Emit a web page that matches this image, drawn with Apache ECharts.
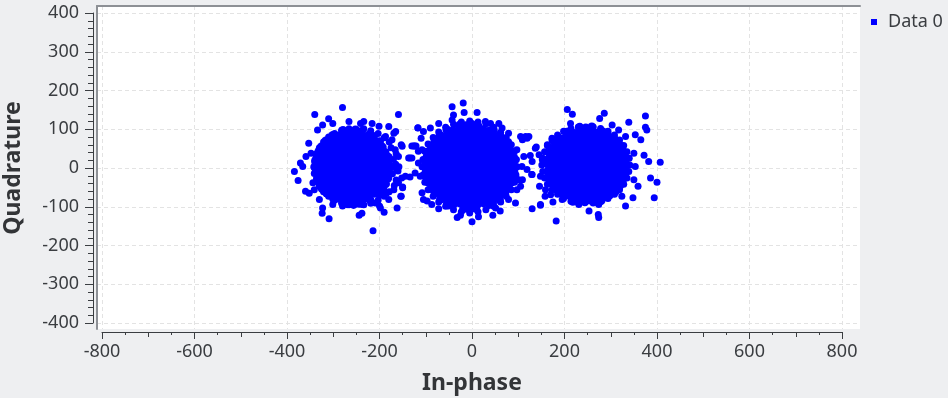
<!DOCTYPE html>
<html><head><meta charset="utf-8">
<script src="https://cdn.jsdelivr.net/npm/echarts@6/dist/echarts.min.js"></script>
<style>html,body{margin:0;padding:0;background:#eeeff1}#c{width:948px;height:398px}</style>
</head><body><div id="c"></div>
<script>
const seriesName = 'Data 0';
const xAxisTitle = 'In-phase';
const yAxisTitle = 'Quadrature';
const xRange = [-800, 800];
const yRange = [-400, 400];
const xSplitValues = [-800, -600, -400, -200, 0, 200, 400, 600, 800];
const ySplitValues = [-400, -300, -200, -100, 0, 100, 200, 300, 400];

// Cluster near I = -250 (dense body)
const leftCore = [
[-279,97],[-266,95],[-252,98],[-239,94],
[-301,84],[-288,82],[-275,85],[-262,81],[-249,84],[-236,82],[-223,85],[-213,81],
[-316,70],[-303,68],[-290,71],[-277,67],[-264,70],[-251,68],[-238,71],[-225,67],[-212,70],[-200,68],
[-325,55],[-312,57],[-298,54],[-285,58],[-272,55],[-259,57],[-246,54],[-233,58],[-220,55],[-207,57],[-194,54],
[-331,43],[-318,41],[-305,44],[-292,40],[-279,43],[-266,41],[-253,44],[-240,40],[-227,43],[-214,41],[-201,44],[-188,40],
[-335,28],[-322,30],[-309,27],[-296,31],[-283,28],[-270,30],[-257,27],[-244,31],[-231,28],[-218,30],[-205,27],[-192,31],[-181,28],
[-338,16],[-325,14],[-312,17],[-299,13],[-286,16],[-273,14],[-260,17],[-247,13],[-234,16],[-221,14],[-208,17],[-195,13],[-182,16],
[-339,1],[-326,3],[-313,0],[-300,4],[-287,1],[-274,3],[-261,0],[-248,4],[-235,1],[-222,3],[-209,0],[-196,4],[-183,1],[-176,3],
[-337,-11],[-324,-13],[-311,-10],[-298,-14],[-285,-11],[-272,-13],[-259,-10],[-246,-14],[-233,-11],[-220,-13],[-207,-10],[-194,-14],[-181,-11],
[-334,-26],[-321,-24],[-308,-27],[-295,-23],[-282,-26],[-269,-24],[-256,-27],[-243,-23],[-230,-26],[-217,-24],[-204,-27],[-191,-23],[-182,-26],
[-330,-38],[-317,-40],[-304,-37],[-291,-41],[-278,-38],[-265,-40],[-252,-37],[-239,-41],[-226,-38],[-213,-40],[-200,-37],[-187,-41],
[-324,-53],[-311,-51],[-298,-54],[-285,-50],[-272,-53],[-259,-51],[-246,-54],[-233,-50],[-220,-53],[-207,-51],[-193,-54],
[-314,-65],[-301,-67],[-288,-64],[-275,-68],[-262,-65],[-249,-67],[-236,-64],[-223,-68],[-210,-65],[-200,-67],
[-299,-80],[-286,-78],[-273,-81],[-260,-77],[-247,-80],[-234,-78],[-221,-81],
[-270,-92],[-256,-94],[-244,-91]
];
// Cluster near I = -250 (outer ring and scattered fringe)
const leftEdge = [
[-158,3],[-165,10],[-160,-8],[-164,37],[-179,67],[-203,89],[-234,101],[-266,101],[-297,89],[-321,67],
[-336,37],[-342,3],[-336,-31],[-321,-61],[-297,-83],[-266,-95],[-234,-95],[-203,-83],[-179,-61],[-164,-31],
[-170,22],[-172,-15],[-168,-45],[-190,78],[-219,96],[-282,97],[-310,80],[-330,52],[-340,20],[-341,-14],
[-330,-47],[-310,-73],[-282,-91],[-219,-91],[-190,-73],[-175,52],[-185,-65],
[-280,156],[-340,138],[-310,127],[-159,138],[-214,-162],[-309,-131],[-324,-117],[-384,-9],[-376,-32],[-371,13],
[-353,64],[-334,98],[-244,-122],[-238,-117],[-190,-114],[-162,-103],[-154,-73],[-150,-49],[-117,103],[-151,56],
[-126,57],[-121,57],[-116,43],[-134,26],[-144,-21],[-169,90],[-165,94],[-241,115],[-234,120],[-216,115],
[-201,108],[-360,-60],[-352,-65],[-323,-103],[-280,-98],[-200,-98],[-359,30],[-348,38],[-366,4],[-344,-38],
[-341,-56],[-323,111],[-301,115],[-266,120],[-180,107],[-187,81],[-173,73],[-166,47],[-159,30],[-163,-4],
[-159,-38],[-169,-56],[-180,-81],[-330,-81],[-301,-94],[-237,-94],[-209,-90],[-198,-103],[-134,-23],[-123,-13]
];
// Cluster near I = 0 (dense body)
const midCore = [
[-26,111],[-13,109],[0,112],[13,108],
[-54,98],[-41,96],[-28,99],[-15,95],[-2,98],[11,96],[24,99],[37,95],[46,98],
[-69,84],[-56,82],[-43,85],[-30,81],[-17,84],[-4,82],[9,85],[22,81],[35,84],[48,82],[60,85],
[-80,69],[-67,71],[-54,68],[-41,72],[-28,69],[-15,71],[-2,68],[11,72],[24,69],[37,71],[50,68],[63,72],[72,69],
[-88,57],[-75,55],[-62,58],[-49,54],[-36,57],[-23,55],[-10,58],[3,54],[16,57],[29,55],[42,58],[55,54],[68,57],[80,55],
[-94,42],[-81,44],[-68,41],[-55,45],[-42,42],[-29,44],[-16,41],[-3,45],[10,42],[23,44],[36,41],[49,45],[62,42],[75,44],[85,41],
[-97,30],[-84,28],[-71,31],[-58,27],[-45,30],[-32,28],[-19,31],[-6,27],[7,30],[20,28],[33,31],[46,27],[59,30],[72,28],[85,31],[90,27],
[-100,15],[-87,17],[-74,14],[-61,18],[-48,15],[-35,17],[-22,14],[-9,18],[4,15],[17,17],[30,14],[43,18],[56,15],[69,17],[82,14],[91,18],
[-101,3],[-88,1],[-75,4],[-62,0],[-49,3],[-36,1],[-23,4],[-10,0],[3,3],[16,1],[29,4],[42,0],[55,3],[68,1],[81,4],[92,0],
[-99,-10],[-86,-12],[-73,-9],[-60,-13],[-47,-10],[-34,-12],[-21,-9],[-8,-13],[5,-10],[18,-12],[31,-9],[44,-13],[57,-10],[70,-12],[83,-9],[91,-13],
[-98,-26],[-85,-24],[-72,-27],[-59,-23],[-46,-26],[-33,-24],[-20,-27],[-7,-23],[6,-26],[19,-24],[32,-27],[45,-23],[58,-26],[71,-24],[84,-27],[89,-23],
[-94,-37],[-81,-39],[-68,-36],[-55,-40],[-42,-37],[-29,-39],[-16,-36],[-3,-40],[10,-37],[23,-39],[36,-36],[49,-40],[62,-37],[75,-39],[85,-36],
[-88,-53],[-75,-51],[-62,-54],[-49,-50],[-36,-53],[-23,-51],[-10,-54],[3,-50],[16,-53],[29,-51],[42,-54],[55,-50],[68,-53],[79,-51],
[-80,-64],[-67,-66],[-54,-63],[-41,-67],[-28,-64],[-15,-66],[-2,-63],[11,-67],[24,-64],[37,-66],[50,-63],[63,-67],[71,-64],
[-68,-80],[-55,-78],[-42,-81],[-29,-77],[-16,-80],[-3,-78],[10,-81],[23,-77],[36,-80],[49,-78],[59,-81],
[-53,-91],[-40,-93],[-27,-90],[-14,-94],[-1,-91],[12,-93],[25,-90],[38,-94],[44,-91],
[-18,-105],[-5,-107],[8,-104]
];
// Cluster near I = 0 (outer ring and scattered fringe)
const midEdge = [
[98,3],[92,43],[74,79],[47,105],[13,119],[-23,119],[-57,105],[-84,79],[-102,43],[-108,3],
[-102,-37],[-84,-73],[-57,-99],[-23,-113],[13,-113],[47,-99],[74,-73],[92,-37],
[96,22],[95,-18],[85,60],[62,92],[30,114],[-5,121],[-40,113],[-72,93],[-95,62],[-106,22],
[-106,-18],[-95,-56],[-72,-88],[-40,-108],[-5,-116],[30,-108],[62,-88],[85,-56],
[-19,168],[-43,158],[-17,143],[11,143],[-40,137],[-43,124],[-117,104],[-110,77],[-130,57],[-124,57],
[-137,26],[-130,26],[40,115],[29,120],[65,103],[105,81],[119,77],[79,68],[139,54],[126,32],
[130,17],[129,-17],[101,-30],[97,-56],[94,-90],[130,-105],[148,-94],[0,-139],[14,-126],[-32,-128],
[-25,-122],[45,-122],[61,-111],[-72,-105],[-105,-81],[-97,-85],[-153,-73],[-150,-51],[-90,103],[-105,94],
[-72,115],[58,115],[79,90],[97,47],[108,4],[105,-47],[79,-81],[51,-103],[-51,-98],[-87,-94],
[-108,-64],[-112,-21],[-116,13],[-108,47],[-153,60],[-152,-26]
];
// Cluster near I = 250 (dense body)
const rightCore = [
[233,105],[246,103],[259,106],
[205,92],[218,90],[231,93],[244,89],[257,92],[270,90],[283,93],[292,89],
[189,76],[202,78],[215,75],[228,79],[241,76],[254,78],[267,75],[280,79],[293,76],[306,78],
[180,65],[193,63],[206,66],[219,62],[232,65],[245,63],[258,66],[271,62],[284,65],[297,63],[310,66],[317,62],
[172,49],[185,51],[198,48],[211,52],[224,49],[237,51],[250,48],[263,52],[276,49],[289,51],[302,48],[315,52],[324,49],
[168,38],[181,36],[194,39],[207,35],[220,38],[233,36],[246,39],[259,35],[272,38],[285,36],[298,39],[311,35],[324,38],[329,36],
[165,22],[178,24],[191,21],[204,25],[217,22],[230,24],[243,21],[256,25],[269,22],[282,24],[295,21],[308,25],[321,22],[331,24],
[164,11],[177,9],[190,12],[203,8],[216,11],[229,9],[242,12],[255,8],[268,11],[281,9],[294,12],[307,8],[320,11],[333,9],
[166,-5],[179,-3],[192,-6],[205,-2],[218,-5],[231,-3],[244,-6],[257,-2],[270,-5],[283,-3],[296,-6],[309,-2],[322,-5],[331,-3],
[167,-16],[180,-18],[193,-15],[206,-19],[219,-16],[232,-18],[245,-15],[258,-19],[271,-16],[284,-18],[297,-15],[310,-19],[323,-16],[330,-18],
[171,-32],[184,-30],[197,-33],[210,-29],[223,-32],[236,-30],[249,-33],[262,-29],[275,-32],[288,-30],[301,-33],[314,-29],[325,-32],
[177,-43],[190,-45],[203,-42],[216,-46],[229,-43],[242,-45],[255,-42],[268,-46],[281,-43],[294,-45],[307,-42],[319,-46],
[186,-59],[199,-57],[212,-60],[225,-56],[238,-59],[251,-57],[264,-60],[277,-56],[290,-59],[303,-57],[310,-60],
[199,-70],[212,-72],[225,-69],[238,-73],[251,-70],[264,-72],[277,-69],[290,-73],[297,-70],
[218,-86],[231,-84],[244,-87],[257,-83],[270,-86],[279,-84]
];
// Cluster near I = 250 (outer ring and scattered fringe)
const rightEdge = [
[341,8],[335,42],[319,72],[294,95],[262,106],[230,106],[198,95],[173,72],[157,42],[151,8],
[157,-26],[173,-56],[198,-79],[230,-90],[262,-90],[294,-79],[319,-56],[335,-26],
[340,25],[339,-9],[328,58],[308,85],[278,102],[214,102],[185,85],[163,58],[153,25],[153,-9],
[163,-42],[185,-68],[214,-86],[278,-86],[308,-68],[328,-42],
[206,151],[217,139],[286,141],[276,128],[375,134],[339,118],[375,105],[378,98],[353,86],[365,73],
[213,115],[407,15],[372,33],[382,17],[400,-37],[386,-26],[359,-47],[348,-77],[394,-77],[332,-98],
[274,-128],[273,-120],[253,-111],[182,-137],[148,-96],[175,-88],[158,-73],[170,-69],[146,-47],[137,51],
[145,34],[163,60],[173,77],[116,81],[123,81],[130,-17],[188,73],[303,111],[317,98],[332,81],
[350,38],[353,4],[350,-30],[324,-73],[274,-94],[231,-94],[195,-81],[159,-56],[148,-21],[152,21],
[166,56],[109,73],[112,30],[119,-4],[109,-30]
];

const corePoints = [].concat(leftCore, midCore, rightCore);
const edgePoints = [].concat(leftEdge, midEdge, rightEdge);

// ---- layout (pixels) ----
const FONT = 'Noto Sans';
const textColor = '#3a3d41';
const axisColor = '#3a3d41';
const borderColor = '#8d9095';
const gridLineColor = '#e3e3e3';
const dataBox = {left: 102, top: 13, width: 740, height: 310};
const plotBox = {left: 97, top: 6, right: 860, bottom: 329};
const pxX = dataBox.width / (xRange[1] - xRange[0]);
const pxY = dataBox.height / (yRange[1] - yRange[0]);
const bgX = [xRange[0] - (dataBox.left - plotBox.left) / pxX,
             xRange[1] + (plotBox.right - dataBox.left - dataBox.width) / pxX];
const bgY = [yRange[0] - (plotBox.bottom - dataBox.top - dataBox.height) / pxY,
             yRange[1] + (dataBox.top - plotBox.top) / pxY];

const chart = echarts.init(document.getElementById('c'), null, {renderer: 'canvas'});
const titleStyle = {fontSize: 23, fontWeight: 'bold', color: '#333538', fontFamily: FONT};
chart.setOption({
  animation: false,
  backgroundColor: '#eeeff1',
  textStyle: {fontFamily: FONT},
  legend: {
    data: [{name: seriesName, icon: 'rect'}],
    left: 871, top: 13, padding: 0,
    itemWidth: 6, itemHeight: 6,
    textStyle: {fontSize: 18, color: textColor, fontFamily: FONT, padding: [0, 0, 0, 6]}
  },
  grid: [
    {left: plotBox.left, top: plotBox.top, width: plotBox.right - plotBox.left, height: plotBox.bottom - plotBox.top,
     show: true, backgroundColor: '#ffffff', borderWidth: 0, containLabel: false, outerBoundsMode: 'none'},
    {left: dataBox.left, top: dataBox.top, width: dataBox.width, height: dataBox.height,
     containLabel: false, outerBoundsMode: 'none'}
  ],
  xAxis: [
    {gridIndex: 0, type: 'value', min: bgX[0], max: bgX[1], position: 'top', silent: true,
     axisLine: {show: true, onZero: false, lineStyle: {color: borderColor, width: 2}},
     axisTick: {show: false, customValues: xSplitValues},
     axisLabel: {show: false, customValues: xSplitValues},
     splitLine: {show: true, lineStyle: {color: gridLineColor, type: [4, 3], width: 1}}},
    {gridIndex: 1, type: 'value', min: xRange[0], max: xRange[1], interval: 200, position: 'bottom', offset: 9,
     axisLine: {show: true, onZero: false, lineStyle: {color: axisColor, width: 1}},
     axisTick: {show: true, length: 7, lineStyle: {color: axisColor}},
     minorTick: {show: true, splitNumber: 4, length: 3, lineStyle: {color: axisColor}},
     axisLabel: {fontSize: 18, color: textColor, margin: 11, fontFamily: FONT},
     splitLine: {show: false},
     name: xAxisTitle, nameLocation: 'middle', nameGap: 40, nameTextStyle: titleStyle},
    {gridIndex: 1, type: 'value', min: xRange[0], max: xRange[1], interval: 100, position: 'bottom', offset: 9,
     axisLine: {show: false, onZero: false}, axisTick: {show: true, length: 5, lineStyle: {color: axisColor}},
     axisLabel: {show: false}, splitLine: {show: false}}
  ],
  yAxis: [
    {gridIndex: 0, type: 'value', min: bgY[0], max: bgY[1], position: 'left', silent: true,
     axisLine: {show: true, onZero: false, lineStyle: {color: borderColor, width: 2}},
     axisTick: {show: false, customValues: ySplitValues},
     axisLabel: {show: false, customValues: ySplitValues},
     splitLine: {show: true, lineStyle: {color: gridLineColor, type: [4, 3], width: 1}}},
    {gridIndex: 1, type: 'value', min: yRange[0], max: yRange[1], interval: 100, position: 'left', offset: 9,
     axisLine: {show: true, onZero: false, lineStyle: {color: axisColor, width: 1}},
     axisTick: {show: true, length: 8, lineStyle: {color: axisColor}},
     minorTick: {show: true, splitNumber: 5, length: 5, lineStyle: {color: axisColor}},
     axisLabel: {fontSize: 18, color: textColor, margin: 14, fontFamily: FONT},
     splitLine: {show: false},
     name: yAxisTitle, nameLocation: 'middle', nameGap: 68, nameRotate: 90, nameTextStyle: titleStyle}
  ],
  series: [{
    name: seriesName, type: 'scatter', xAxisIndex: 1, yAxisIndex: 1,
    symbol: 'circle', symbolSize: 9,
    itemStyle: {color: '#0000ff', opacity: 1},
    emphasis: {disabled: true},
    data: corePoints
  }, {
    name: seriesName, type: 'scatter', xAxisIndex: 1, yAxisIndex: 1,
    symbol: 'circle', symbolSize: 7,
    itemStyle: {color: '#0000ff', opacity: 1},
    emphasis: {disabled: true},
    data: edgePoints
  }]
});
</script></body></html>
